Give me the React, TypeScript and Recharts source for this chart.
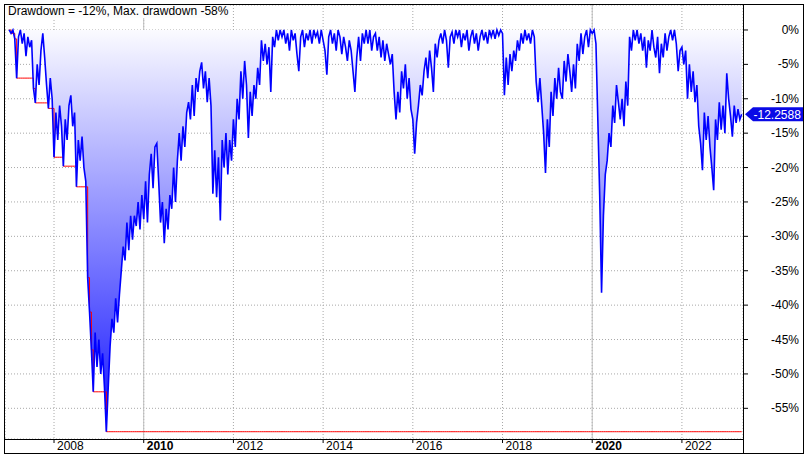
import React from "react";
import {
  ComposedChart,
  Area,
  Line,
  XAxis,
  YAxis,
  CartesianGrid,
  ReferenceLine,
  ReferenceDot,
} from "recharts";

// drawdown in %, 24 readings per year (half-monthly)
const dd2007 = [0, -0.5, 0, -1.3, -7, -1, 0, -2, -0.5, -3.8, -1, -2.5, -1.5, -8.5, -10.6, -5, -8, -3, -0.5, -4, -8, -11.4, -7, -10];
const dd2008 = [-18.5, -12, -16, -11, -14, -19.8, -13, -16, -11, -9.5, -14, -12, -22.8, -16, -19, -15.5, -20, -22, -36, -41, -46.5, -52.6, -44, -49];
const dd2009 = [-45, -50, -47, -52, -58.4, -52, -46, -42, -44, -39, -42.5, -38.5, -35, -31.5, -33.5, -28, -32, -27, -30.5, -27, -28.5, -25, -29, -24];
const dd2010 = [-27.5, -22, -28, -21, -18, -23, -17, -16.5, -22, -28, -25, -31, -26, -29, -24, -26, -20, -25, -19, -15, -19, -14, -17, -12];
const dd2011 = [-10.5, -13, -8, -12.5, -7, -9, -6, -4.7, -8.5, -6, -10.5, -7, -11, -23.8, -17.5, -24.3, -18.5, -27.7, -16, -20, -15, -21, -16, -19];
const dd2012 = [-13, -17, -10, -13, -6, -10, -4.5, -8, -15.7, -9, -12.5, -8, -10, -5.5, -8, -1.5, -4.5, -2, -5, -2.5, -9, -1, -2.5, 0];
const dd2013 = [-1.5, 0, -1, 0, -2, -0.5, -3, 0, -1.5, -0.5, -3.5, -6, -1, 0, -2.5, -0.5, -1.5, 0, -2, 0, -1, -0.3, -2, 0];
const dd2014 = [-1.5, -3, -6.5, -1, 0, -2, -0.5, -3, 0, -1, -3.5, -1, -2.5, -4.5, -1.5, -3, -6, -9, -4, -1, -4.5, -0.5, -2, 0];
const dd2015 = [-2, 0, -3, -1, -0.5, -3, -1, -4, -1.5, -4.5, -2, -3.5, -5, -3.5, -9, -13, -9, -12, -6, -8.5, -5, -10, -7, -11.5];
const dd2016 = [-13, -18, -13.5, -11, -8, -9.5, -6, -4, -7, -3, -5.5, -9, -2, -4, -1.5, -0.5, -2, 0, -1.5, -5.5, -1, -0.3, -2, 0];
const dd2017 = [-1, 0, -2.5, -0.5, -1.5, 0, -3, -1, 0, -2, -0.5, -3, -1, 0, -1.5, -0.3, -2, 0, -1, 0, -1.3, 0, -0.8, 0];
const dd2018 = [-0.5, -9.5, -4, -8, -3.5, -6, -3, -4.5, -1.5, -3, -0.5, -2, 0, -1.5, -0.5, -2, 0, -1, -7.5, -10.5, -7, -11, -15, -20.8];
const dd2019 = [-13, -17, -9, -12.5, -7, -10, -5.5, -9, -10, -4.5, -7.5, -3.5, -6, -9, -5, -8.5, -2, -4.5, -0.5, -3.5, -1, 0, -2.5, 0];
const dd2020 = [-0.5, 0, -2, -13, -24, -38.2, -27, -21, -19, -15, -17, -11, -13.5, -8, -10.5, -13, -10, -14, -7.5, -11, -1, -3, 0, -1.5];
const dd2021 = [0, -2, -0.5, -3, -1, -5.5, -1.5, -3, 0, -2.5, -4, -1, -6.3, -2, -4, -0.5, -3, -1, 0, -1.5, 0, -2, -6, -3];
const dd2022 = [-2.5, -5, -3, -10, -5, -9, -6, -10.5, -8, -14, -16.5, -20.4, -12, -16, -12.5, -17, -20, -23.3, -13, -16, -10.5, -14.5, -11, -15];
const dd2023 = [-6.3, -10, -12.5, -15.5, -11, -13.5, -11.5, -13, -12.2588];

const yearSeries: [number, number[]][] = [
  [2007, dd2007], [2008, dd2008], [2009, dd2009], [2010, dd2010], [2011, dd2011],
  [2012, dd2012], [2013, dd2013], [2014, dd2014], [2015, dd2015], [2016, dd2016],
  [2017, dd2017], [2018, dd2018], [2019, dd2019], [2020, dd2020], [2021, dd2021],
  [2022, dd2022], [2023, dd2023],
];

const xTicks = [2008, 2010, 2012, 2014, 2016, 2018, 2020, 2022];
const boldYears = [2010, 2020];
const yTicks = [0, -5, -10, -15, -20, -25, -30, -35, -40, -45, -50, -55];

const data = yearSeries.flatMap(([year, vals]) =>
  vals.map((v, k) => ({ t: year + k / 24, dd: v, maxDd: 0 }))
);
let low = 0;
data.forEach((d) => {
  low = Math.min(low, d.dd);
  d.maxDd = low;
});
const last = data[data.length - 1];
const maxDrawdown = low;

const FONT = "'Liberation Sans', Arial, sans-serif";

function XTick({ x, y, payload }: any) {
  const bold = boldYears.includes(payload.value);
  return (
    <text x={x + 3} y={y} dy={7} fontSize={12} fontFamily={FONT} fill="#000" fontWeight={bold ? 700 : 400} textAnchor="start">
      {payload.value}
    </text>
  );
}

function YTick({ x, y, payload }: any) {
  return (
    <text x={x + 51} y={y} dy={4} fontSize={12} fontFamily={FONT} fill="#000" textAnchor="end">
      {`${payload.value}%`}
    </text>
  );
}

function Badge({ cx, cy }: any) {
  if (cx == null || cy == null) return null;
  const tip = cx + 3.3;
  const right = 803;
  const pts = `${tip},${cy} ${tip + 8},${cy - 7} ${right},${cy - 7} ${right},${cy + 7} ${tip + 8},${cy + 7}`;
  return (
    <g>
      <polygon points={pts} fill="#0a0ae6" />
      <text x={tip + 8.5} y={cy + 4.3} fontSize={12} fontFamily={FONT} fill="#fff">
        {last.dd.toFixed(4)}
      </text>
    </g>
  );
}

export default function App() {
  const refZ: any = { zIndex: 50 };
  return (
    <div style={{ position: "absolute", left: 0, top: 0, width: 808, height: 461, background: "#fff", overflow: "hidden" }}>
      <ComposedChart width={808} height={461} data={data} margin={{ top: 5, right: 5, left: 5, bottom: 8 }}>
        <defs>
          <linearGradient id="ddFill" x1="0" y1="0" x2="0" y2="1">
            <stop offset="0%" stopColor="#fbfbff" />
            <stop offset="100%" stopColor="#1414ff" />
          </linearGradient>
        </defs>
        <CartesianGrid stroke="#a8a8a8" strokeDasharray="1 2" />
        <XAxis
          dataKey="t"
          type="number"
          domain={[2006.907, 2023.362]}
          allowDataOverflow
          ticks={xTicks}
          interval={0}
          height={14}
          tickSize={4}
          tickMargin={0}
          axisLine={false}
          tickLine={{ stroke: "#000" }}
          tick={(p: any) => <XTick {...p} />}
        />
        <YAxis
          orientation="right"
          type="number"
          domain={[-59.46, 3.63]}
          allowDataOverflow
          ticks={yTicks}
          interval={0}
          width={60}
          tickSize={5}
          tickMargin={0}
          axisLine={false}
          tickLine={{ stroke: "#000" }}
          tick={(p: any) => <YTick {...p} />}
        />
        {boldYears.map((yr) => (
          <ReferenceLine key={yr} x={yr} stroke="#bdbdbd" strokeWidth={1} {...refZ} />
        ))}
        <Area
          dataKey="dd"
          type="linear"
          stroke="none"
          fill="url(#ddFill)"
          fillOpacity={1}
          isAnimationActive={false}
        />
        <Line dataKey="maxDd" type="stepAfter" stroke="#ff0000" strokeWidth={1} dot={false} isAnimationActive={false} />
        <Line dataKey="dd" type="linear" stroke="#0000ff" strokeWidth={1.6} dot={false} isAnimationActive={false} />
        <ReferenceDot x={last.t} y={last.dd} r={0} shape={(p: any) => <Badge {...p} />} />
      </ComposedChart>
      {/* frame */}
      <div style={{ position: "absolute", left: 4, top: 4, width: 800, height: 450, border: "1px solid #000", boxSizing: "border-box", pointerEvents: "none" }} />
      <div style={{ position: "absolute", left: 743, top: 4, width: 1, height: 450, background: "#000" }} />
      <div style={{ position: "absolute", left: 4, top: 439, width: 740, height: 1, background: "#000" }} />
      <div
        style={{
          position: "absolute",
          left: 5,
          top: 5,
          height: 13,
          padding: "0 2px 0 3px",
          background: "#fcfcfc",
          fontFamily: FONT,
          fontSize: 12,
          lineHeight: "13px",
          color: "#000",
          whiteSpace: "nowrap",
        }}
      >
        {`Drawdown = ${Math.round(last.dd)}%, Max. drawdown ${Math.round(maxDrawdown)}%`}
      </div>
    </div>
  );
}
